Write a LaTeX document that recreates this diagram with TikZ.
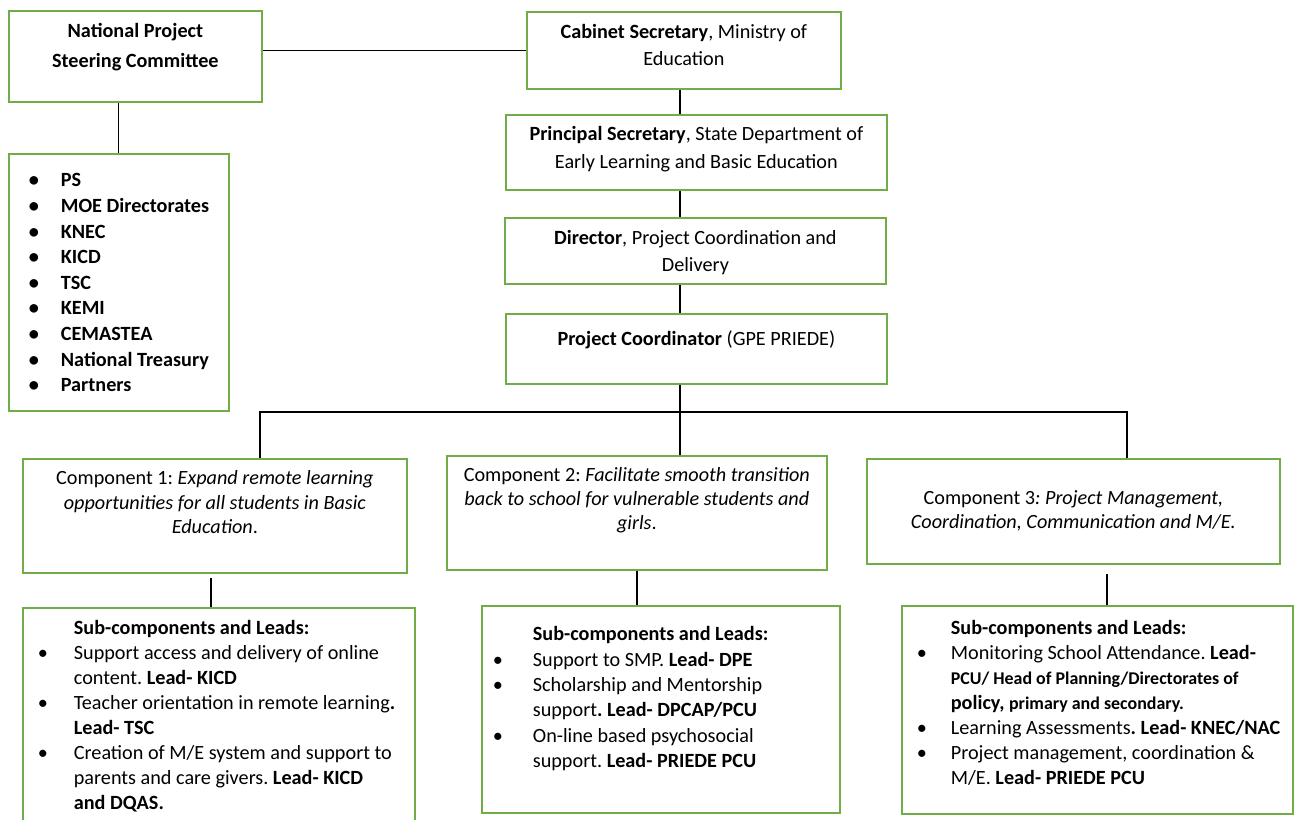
\documentclass[tikz,border=0pt]{standalone}
\usepackage{fontspec}
\setmainfont{Carlito}
\usepackage{tikz}

\definecolor{boxgreen}{RGB}{112,173,71}
\newdimen\px \px=0.02cm
\newcommand{\boxtext}[4]{\parbox[t][#2\px][t]{#1\px}{\fontsize{11.5}{15}\selectfont\frenchspacing\baselineskip=#3\px\relax #4}}
\newcommand{\gap}[1]{\rule{0pt}{#1\px}}
\newcommand{\head}[2]{\par\noindent\hspace*{#1\px}\gap{#2}\textbf{Sub-components and Leads:}}
\newcommand{\bul}[3]{\par\noindent\hangindent=#2\px\hangafter=1\makebox[#2\px][l]{\hspace*{#1\px}\makebox[0pt]{\textbullet}}#3}
\newcommand{\smallbf}{\fontsize{10.2}{12}\selectfont\bfseries}

\tikzset{
	box/.style={draw=boxgreen,line width=1pt,inner sep=0pt,anchor=north west},
	link/.style={draw,line width=0.7pt}
}

\begin{document}
\begin{tikzpicture}[x=0.02cm,y=-0.02cm]
	\clip (0,0) rectangle (1302,819);
	
	%steering committee
	\node[box] (npsc) at (8,10) {\boxtext{253}{91}{30}{\centering\bfseries\gap{27}National Project\\Steering Committee}};
	\node[box] (members) at (8,153) {\boxtext{220}{257}{25.6}{\raggedright\bfseries
		\bul{25}{52}{\gap{33}PS}
		\bul{25}{52}{MOE Directorates}
		\bul{25}{52}{KNEC}
		\bul{25}{52}{KICD}
		\bul{25}{52}{TSC}
		\bul{25}{52}{KEMI}
		\bul{25}{52}{CEMASTEA}
		\bul{25}{52}{National Treasury}
		\bul{25}{52}{Partners}}};
	
	%ministry chain
	\node[box] (cab) at (526,11) {\boxtext{314}{77}{27}{\centering\gap{27}\textbf{Cabinet Secretary}, Ministry of\\Education}};
	\node[box] (prin) at (505,114) {\boxtext{381}{75}{28}{\centering\gap{26}\textbf{Principal Secretary}, State Department of\\Early Learning and Basic Education}};
	\node[box] (dir) at (504,217) {\boxtext{381}{66}{27}{\centering\gap{27}\textbf{Director}, Project Coordination and\\Delivery}};
	\node[box] (pc) at (505,313) {\boxtext{381}{70}{27}{\centering\gap{32}\textbf{Project Coordinator} (GPE PRIEDE)}};
	
	%components
	\node[box] (comp1) at (22,458) {\boxtext{384}{114}{24.5}{\centering\gap{26}Component 1: \textit{Expand remote learning\\opportunities for all students in Basic\\Education}.}};
	\node[box] (comp2) at (446,455) {\boxtext{380}{114}{24}{\centering\gap{26}Component 2: \textit{Facilitate smooth transition\\back to school for vulnerable students and\\girls}.}};
	\node[box] (comp3) at (866,458) {\boxtext{413}{105}{24}{\centering\gap{46}Component 3\textit{: Project Management,\\Coordination, Communication and M/E.}}};
	
	%sub-components
	\node[box] (sub1) at (22,607) {\boxtext{392}{220}{25}{\raggedright
		\head{51}{27}
		\bul{20}{51}{Support access and delivery of online\newline content. \textbf{Lead- KICD}}
		\bul{20}{51}{Teacher orientation in remote learning\textbf{.}\newline\textbf{Lead- TSC}}
		\bul{20}{51}{Creation of M/E system and support to\newline parents and care givers. \textbf{Lead- KICD}\newline\textbf{and DQAS.}}}};
	\node[box] (sub2) at (481,605) {\boxtext{358}{207}{25.3}{\raggedright
		\head{51}{35}
		\bul{16}{51}{Support to SMP. \textbf{Lead- DPE}}
		\bul{16}{51}{Scholarship and Mentorship\newline support\textbf{. Lead- DPCAP/PCU}}
		\bul{16}{51}{On-line based psychosocial\newline support. \textbf{Lead- PRIEDE PCU}}}};
	\node[box] (sub3) at (901,605) {\boxtext{391}{208}{25}{\raggedright
		\head{49}{29}
		\bul{20}{49}{Monitoring School Attendance. \textbf{Lead-}\newline{\smallbf PCU/ Head of Planning/Directorates of}\newline\textbf{policy,} {\smallbf primary and secondary.}}
		\bul{20}{49}{Learning Assessments\textbf{. Lead- KNEC/NAC}}
		\bul{20}{49}{Project management, coordination \&\newline M/E. \textbf{Lead- PRIEDE PCU}}}};
	
	%connectors
	\coordinate (spine) at (680,0);
	\coordinate (bus) at (0,412);
	\coordinate (drop1) at (260,0);	\coordinate (drop3) at (1127,0);
	\coordinate (tap1) at (211,0);	\coordinate (tap3) at (1107,0);
	\draw[link] (cab.west) -- (npsc.east |- cab.west);
	\draw[link] (members.north) -- (members.north |- npsc.south);
	\draw[link] (spine |- cab.south) -- (spine |- prin.north);
	\draw[link] (spine |- prin.south) -- (spine |- dir.north);
	\draw[link] (spine |- dir.south) -- (spine |- pc.north);
	\draw[link] (spine |- pc.south) -- (spine |- comp2.north);
	\draw[link] (drop1 |- comp1.north) -- (drop1 |- bus) -- (drop3 |- bus) -- (drop3 |- comp3.north);
	\draw[link,shorten <=0.08cm] (tap1 |- comp1.south) -- (tap1 |- sub1.north);
	\draw[link] (comp2.south) -- (comp2.south |- sub2.north);
	\draw[link,shorten <=0.18cm] (tap3 |- comp3.south) -- (tap3 |- sub3.north);
\end{tikzpicture}
\end{document}
